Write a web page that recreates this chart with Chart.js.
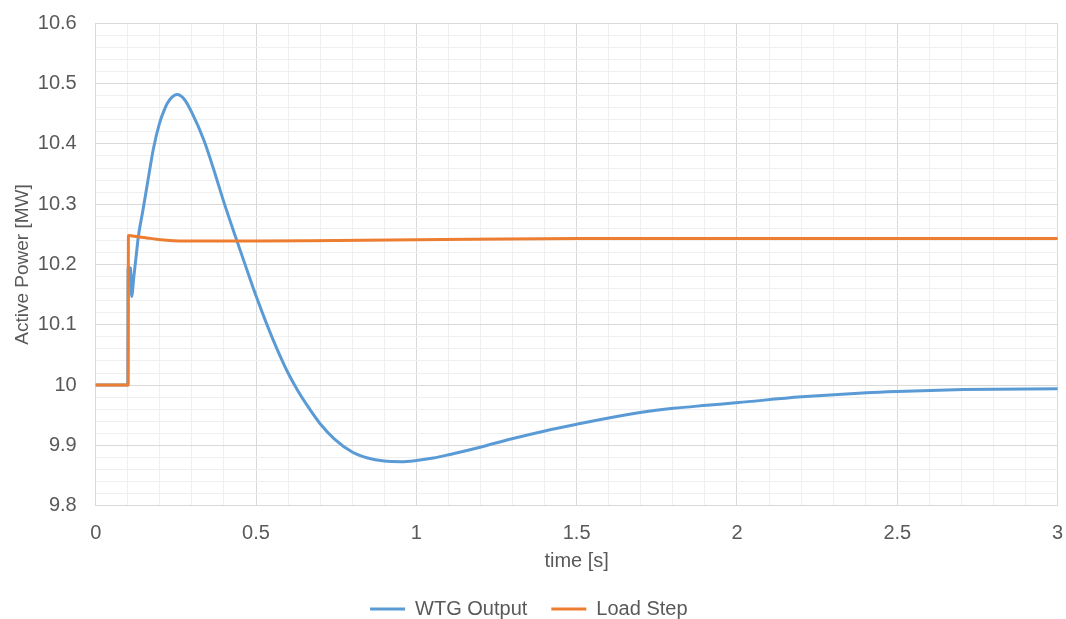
<!DOCTYPE html>
<html>

<head>
    <title>WTG Output vs Load Step</title>

    <style>
        html,
        body {
            margin: 0;
            padding: 0;
            overflow: hidden;
            background: #ffffff;
        }
    </style>
</head>

<body>
    <canvas id="powerChart" width="1066" height="629"></canvas>

    <script src="https://cdn.jsdelivr.net/npm/chart.js"></script>

    <script>
        // WTG active power response [MW] over time [s]
        const wtgTime = [0, 0.1, 0.101, 0.109, 0.112, 0.119, 0.126, 0.133, 0.148, 0.164, 0.180, 0.200, 0.216, 0.223, 0.235, 0.254, 0.275, 0.300, 0.3375, 0.369, 0.400, 0.440, 0.473, 0.500, 0.535, 0.567, 0.600, 0.629, 0.660, 0.700, 0.744, 0.800, 0.848, 0.900, 0.952, 1.000, 1.053, 1.105, 1.199, 1.298, 1.401, 1.500, 1.604, 1.703, 1.802, 1.906, 2.004, 2.202, 2.405, 2.500, 2.706, 3.000]
        const wtgPower = [10, 10, 10.195, 10.194, 10.147, 10.180, 10.213, 10.246, 10.292, 10.343, 10.392, 10.436, 10.459, 10.467, 10.476, 10.482, 10.475, 10.452, 10.406, 10.356, 10.303, 10.240, 10.189, 10.148, 10.099, 10.058, 10.020, 9.992, 9.966, 9.936, 9.911, 9.889, 9.879, 9.874, 9.873, 9.875, 9.879, 9.885, 9.897, 9.911, 9.924, 9.935, 9.946, 9.955, 9.9615, 9.9665, 9.971, 9.9805, 9.9875, 9.9895, 9.9925, 9.994]

        // load step [MW]
        const loadTime = [0, 0.101, 0.102, 0.13, 0.16, 0.19, 0.23, 0.284, 0.5, 0.75, 1.0, 1.5, 2.0, 2.5, 3.0]
        const loadPower = [10, 10, 10.248, 10.246, 10.244, 10.242, 10.240, 10.239, 10.239, 10.240, 10.241, 10.243, 10.243, 10.243, 10.243]

        const blue = '#5b9bd5'
        const orange = '#ed7d31'
        const textGrey = '#595959'
        const fontFamily = "'Liberation Sans', Arial, sans-serif"
        const clear = 'rgba(0,0,0,0)'

        function toPoints(xs, ys) {
            let pts = []
            for (let i = 0; i < xs.length; i++) {
                pts.push({ x: xs[i], y: ys[i] })
            }
            return pts
        }

        function isMajor(v, step) {
            let r = v / step
            return Math.abs(r - Math.round(r)) < 1e-6
        }

        const ctx = document.getElementById('powerChart');
        new Chart(ctx, {
            type: 'line',
            data: {
                datasets: [
                    {
                        label: 'WTG Output',
                        data: toPoints(wtgTime, wtgPower),
                        borderColor: blue,
                        backgroundColor: blue,
                        order: 1
                    },
                    {
                        label: 'Load Step',
                        data: toPoints(loadTime, loadPower),
                        borderColor: orange,
                        backgroundColor: orange,
                        order: 0
                    }
                ]
            },
            options: {
                responsive: false,
                animation: false,
                devicePixelRatio: 1,
                layout: {
                    padding: { top: 23.3, right: 8.4, bottom: 0, left: 0 }
                },
                elements: {
                    point: { radius: 0 },
                    line: {
                        borderWidth: 3,
                        cubicInterpolationMode: 'monotone',
                        borderCapStyle: 'round',
                        borderJoinStyle: 'round',
                        fill: false
                    }
                },
                scales: {
                    x: {
                        type: 'linear',
                        position: 'bottom',
                        min: 0,
                        max: 3,
                        afterFit: s => { s.height = 69.3 },
                        ticks: {
                            stepSize: 0.1,
                            maxTicksLimit: 100,
                            autoSkip: false,
                            maxRotation: 0,
                            padding: 0,
                            color: textGrey,
                            font: { family: fontFamily, size: 20 },
                            callback: v => isMajor(v, 0.5) ? String(Math.round(v * 10) / 10) : ''
                        },
                        grid: {
                            drawTicks: true,
                            tickLength: 16,
                            tickColor: clear,
                            color: c => isMajor(c.tick.value, 0.5) ? '#d9d9d9' : '#efefef',
                            lineWidth: 1
                        },
                        border: { color: '#d9d9d9' },
                        title: {
                            display: true,
                            text: 'time [s]',
                            color: textGrey,
                            font: { family: fontFamily, size: 20 },
                            padding: { top: 0, bottom: 2 }
                        }
                    },
                    y: {
                        min: 9.8,
                        max: 10.6,
                        afterFit: s => { s.width = 95.7 },
                        ticks: {
                            stepSize: 0.02,
                            maxTicksLimit: 100,
                            autoSkip: false,
                            padding: 0,
                            color: textGrey,
                            font: { family: fontFamily, size: 20 },
                            callback: v => isMajor(v, 0.1) ? String(Math.round(v * 10) / 10) : ''
                        },
                        grid: {
                            drawTicks: true,
                            tickLength: 19,
                            tickColor: clear,
                            color: c => isMajor(c.tick.value, 0.1) ? '#d9d9d9' : '#efefef',
                            lineWidth: 1
                        },
                        border: { color: '#d9d9d9' },
                        title: {
                            display: true,
                            text: 'Active Power [MW]',
                            color: textGrey,
                            font: { family: fontFamily, size: 19 },
                            padding: { top: 11, bottom: 0 }
                        }
                    }
                },
                plugins: {
                    legend: {
                        position: 'bottom',
                        labels: {
                            boxWidth: 35,
                            boxHeight: 3,
                            padding: 24,
                            color: textGrey,
                            font: { family: fontFamily, size: 20 },
                            sort: (a, b) => a.datasetIndex - b.datasetIndex,
                            generateLabels: chart => Chart.defaults.plugins.legend.labels.generateLabels(chart).map(l => ({ ...l, lineWidth: 0 }))
                        }
                    },
                    tooltip: { enabled: false }
                }
            }
        });
    </script>

</body>

</html>
